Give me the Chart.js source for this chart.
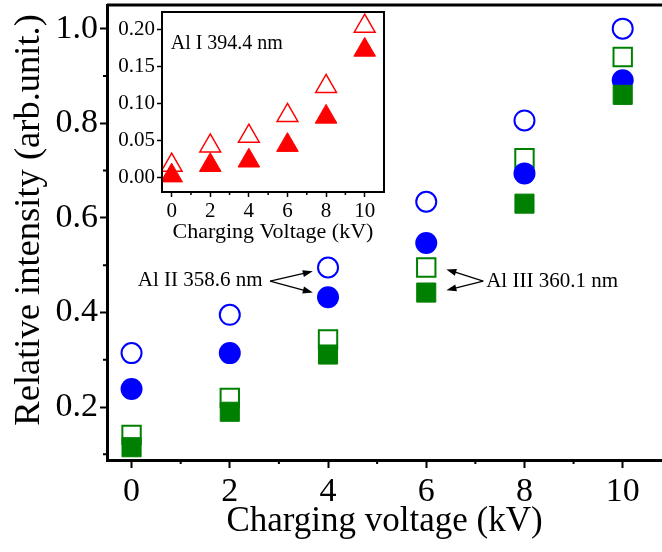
<!DOCTYPE html>
<html>
<head>
<meta charset="utf-8">
<script src="https://cdn.jsdelivr.net/npm/chart.js@4"></script>
<style>
    html, body { margin: 0; padding: 0; background: #fff; overflow: hidden; }
    #wrap { position: relative; width: 662px; height: 552px; }
    #main { position: absolute; left: 0; top: 0; }
    #inset { position: absolute; left: 110px; top: 8px; }
</style>
</head>
<body>
<div id="wrap">
    <canvas id="main" width="662" height="552"></canvas>
    <canvas id="inset" width="290" height="240"></canvas>
</div>
<script>
    // Charging voltage (kV)
    const voltage = [0, 2, 4, 6, 8, 10];

    // Main plot: Al II 358.6 nm (circles), Al III 360.1 nm (squares)
    const alIIOpen = [0.314, 0.395, 0.495, 0.634, 0.806, 1.0];
    const alIIFilled = [0.238, 0.314, 0.432, 0.547, 0.694, 0.891];
    const alIIIOpen = [0.141, 0.219, 0.343, 0.495, 0.726, 0.94];
    const alIIIFilled = [0.115, 0.19, 0.311, 0.442, 0.63, 0.86];

    // Inset: Al I 394.4 nm (triangles)
    const alIOpen = [0.017, 0.043, 0.056, 0.084, 0.123, 0.204];
    const alIFilled = [0.003, 0.017, 0.023, 0.044, 0.082, 0.172];

    // Tick values
    const mainXTicks = [0, 2, 4, 6, 8, 10];
    const mainXMinor = [1, 3, 5, 7, 9];
    const mainYTicks = [0.2, 0.4, 0.6, 0.8, 1.0];
    const mainYMinor = [0.1, 0.3, 0.5, 0.7, 0.9];
    const insetXTicks = [0, 2, 4, 6, 8, 10];
    const insetXMinor = [1, 3, 5, 7, 9];
    const insetYTicks = [0, 0.05, 0.1, 0.15, 0.2];

    const FONT = "'Liberation Serif', 'Times New Roman', serif";
    const BLUE = '#0000ff';
    const GREEN = '#008000';
    const RED = '#ff0000';
    const NONE = 'rgba(0,0,0,0)';

    Chart.defaults.font.family = FONT;
    Chart.defaults.color = '#000';

    const pts = arr => voltage.map((x, i) => ({ x: x, y: arr[i] }));

    // fixed scale size, no extra room for overhanging labels
    const fixSize = (prop, size) => s => {
        s[prop] = size;
        s.paddingLeft = 0;
        s.paddingRight = 0;
        s.paddingTop = 0;
        s.paddingBottom = 0;
    };

    // frame lines and minor ticks
    const framePlugin = {
        id: 'frame',
        afterDraw(chart, args, opts) {
            const { ctx, chartArea: a, scales } = chart;
            ctx.save();
            ctx.strokeStyle = '#000';
            ctx.lineWidth = opts.width;
            ctx.beginPath();
            if (opts.box) {
                ctx.rect(a.left, a.top, a.right - a.left, a.bottom - a.top);
            } else {
                ctx.moveTo(a.left, a.top);
                ctx.lineTo(a.right, a.top);
            }
            ctx.stroke();
            ctx.lineWidth = opts.minorWidth;
            ctx.beginPath();
            (opts.minorX || []).forEach(v => {
                const px = scales.x.getPixelForValue(v);
                ctx.moveTo(px, a.bottom);
                ctx.lineTo(px, a.bottom + opts.minorLen);
            });
            (opts.minorY || []).forEach(v => {
                const py = scales.y.getPixelForValue(v);
                ctx.moveTo(a.left, py);
                ctx.lineTo(a.left - opts.minorLen, py);
            });
            ctx.stroke();
            ctx.restore();
        }
    };

    // text labels with arrows, placed in data units
    const notesPlugin = {
        id: 'notes',
        afterDatasetsDraw(chart, args, opts) {
            const { ctx, scales } = chart;
            const px = p => [scales.x.getPixelForValue(p[0]), scales.y.getPixelForValue(p[1])];
            ctx.save();
            ctx.fillStyle = '#000';
            ctx.strokeStyle = '#000';
            ctx.font = opts.size + 'px ' + FONT;
            ctx.textBaseline = 'middle';
            opts.items.forEach(n => {
                const [tx, ty] = px([n.x, n.y]);
                ctx.textAlign = n.align;
                ctx.fillText(n.text, tx, ty);
                (n.heads || []).forEach(h => {
                    const [x0, y0] = px(n.tail);
                    const [x1, y1] = px(h);
                    const ang = Math.atan2(y1 - y0, x1 - x0);
                    ctx.lineWidth = 1.3;
                    ctx.beginPath();
                    ctx.moveTo(x0, y0);
                    ctx.lineTo(x1 - 6 * Math.cos(ang), y1 - 6 * Math.sin(ang));
                    ctx.stroke();
                    ctx.beginPath();
                    ctx.moveTo(x1, y1);
                    ctx.lineTo(x1 - 10 * Math.cos(ang) + 3.5 * Math.sin(ang), y1 - 10 * Math.sin(ang) - 3.5 * Math.cos(ang));
                    ctx.lineTo(x1 - 10 * Math.cos(ang) - 3.5 * Math.sin(ang), y1 - 10 * Math.sin(ang) + 3.5 * Math.cos(ang));
                    ctx.closePath();
                    ctx.fill();
                });
            });
            ctx.restore();
        }
    };

    new Chart(document.getElementById('main'), {
        type: 'scatter',
        data: {
            datasets: [
                { label: 'Al III filled', data: pts(alIIIFilled), pointStyle: 'rect', pointRadius: 13.5, backgroundColor: GREEN, borderColor: GREEN, borderWidth: 1, order: 0 },
                { label: 'Al II filled', data: pts(alIIFilled), pointStyle: 'circle', pointRadius: 11, backgroundColor: BLUE, borderColor: BLUE, borderWidth: 0, order: 1 },
                { label: 'Al III open', data: pts(alIIIOpen), pointStyle: 'rect', pointRadius: 13, backgroundColor: NONE, borderColor: GREEN, borderWidth: 2, order: 2 },
                { label: 'Al II open', data: pts(alIIOpen), pointStyle: 'circle', pointRadius: 10, backgroundColor: NONE, borderColor: BLUE, borderWidth: 2, order: 3 }
            ]
        },
        options: {
            responsive: false,
            animation: false,
            devicePixelRatio: 1,
            layout: { autoPadding: false, padding: { top: 5, right: 0, left: 0, bottom: 0 } },
            plugins: {
                legend: { display: false },
                tooltip: { enabled: false },
                frame: { width: 3, minorWidth: 2, minorLen: 4, minorX: mainXMinor, minorY: mainYMinor },
                notes: {
                    size: 21,
                    items: [
                        { text: 'Al II 358.6 nm', x: 2.67, y: 0.468, align: 'right', tail: [2.82, 0.466], heads: [[3.69, 0.487], [3.69, 0.442]] },
                        { text: 'Al III 360.1 nm', x: 7.22, y: 0.466, align: 'left', tail: [7.16, 0.466], heads: [[6.41, 0.491], [6.41, 0.447]] }
                    ]
                }
            },
            scales: {
                x: {
                    type: 'linear',
                    min: -0.5,
                    max: 10.8,
                    afterBuildTicks: s => { s.ticks = mainXTicks.map(v => ({ value: v })); },
                    afterFit: fixSize('height', 92),
                    grid: { drawOnChartArea: false, tickLength: 8, tickWidth: 2, tickColor: '#000' },
                    border: { color: '#000', width: 3 },
                    ticks: { font: { size: 34 }, padding: 4, maxRotation: 0, autoSkip: false, callback: v => String(v) },
                    title: { display: true, text: 'Charging voltage (kV)', font: { size: 35 }, padding: { top: 0, bottom: 9 } }
                },
                y: {
                    type: 'linear',
                    min: 0.088,
                    max: 1.05,
                    afterBuildTicks: s => { s.ticks = mainYTicks.map(v => ({ value: v })); },
                    afterFit: fixSize('width', 107),
                    grid: { drawOnChartArea: false, tickLength: 7, tickWidth: 2, tickColor: '#000' },
                    border: { color: '#000', width: 3 },
                    ticks: { font: { size: 34 }, padding: 2, autoSkip: false, callback: v => v.toFixed(1) },
                    title: { display: true, text: 'Relative intensity (arb.unit.) ', align: 'end', font: { size: 36.5 }, padding: { top: 8, bottom: 0 } }
                }
            }
        },
        plugins: [framePlugin, notesPlugin]
    });

    new Chart(document.getElementById('inset'), {
        type: 'scatter',
        data: {
            datasets: [
                { label: 'Al I filled', data: pts(alIFilled), pointStyle: 'triangle', pointRadius: 12.5, backgroundColor: RED, borderColor: RED, borderWidth: 1, order: 0 },
                { label: 'Al I open', data: pts(alIOpen), pointStyle: 'triangle', pointRadius: 12, backgroundColor: NONE, borderColor: RED, borderWidth: 1.5, order: 1 }
            ]
        },
        options: {
            responsive: false,
            animation: false,
            devicePixelRatio: 1,
            layout: { autoPadding: false, padding: { top: 4, right: 16, left: 0, bottom: 0 } },
            plugins: {
                legend: { display: false },
                tooltip: { enabled: false },
                frame: { box: true, width: 2, minorWidth: 1.5, minorLen: 3, minorX: insetXMinor },
                notes: { size: 20, items: [{ text: 'Al I 394.4 nm', x: -0.05, y: 0.18, align: 'left' }] }
            },
            scales: {
                x: {
                    type: 'linear',
                    min: -0.5,
                    max: 11,
                    afterBuildTicks: s => { s.ticks = insetXTicks.map(v => ({ value: v })); },
                    afterFit: fixSize('height', 56),
                    grid: { drawOnChartArea: false, tickLength: 5, tickWidth: 1.5, tickColor: '#000' },
                    border: { display: false },
                    ticks: { font: { size: 21 }, padding: 2, maxRotation: 0, autoSkip: false, callback: v => String(v) },
                    title: { display: true, text: 'Charging Voltage (kV)', font: { size: 22 }, padding: { top: 0, bottom: 3 } }
                },
                y: {
                    type: 'linear',
                    min: -0.019,
                    max: 0.223,
                    afterBuildTicks: s => { s.ticks = insetYTicks.map(v => ({ value: v })); },
                    afterFit: fixSize('width', 52),
                    grid: { drawOnChartArea: false, tickLength: 5, tickWidth: 1.5, tickColor: '#000' },
                    border: { display: false },
                    ticks: { font: { size: 21 }, padding: 2, autoSkip: false, callback: v => v.toFixed(2) }
                }
            }
        },
        plugins: [framePlugin, notesPlugin]
    });
</script>
</body>
</html>
